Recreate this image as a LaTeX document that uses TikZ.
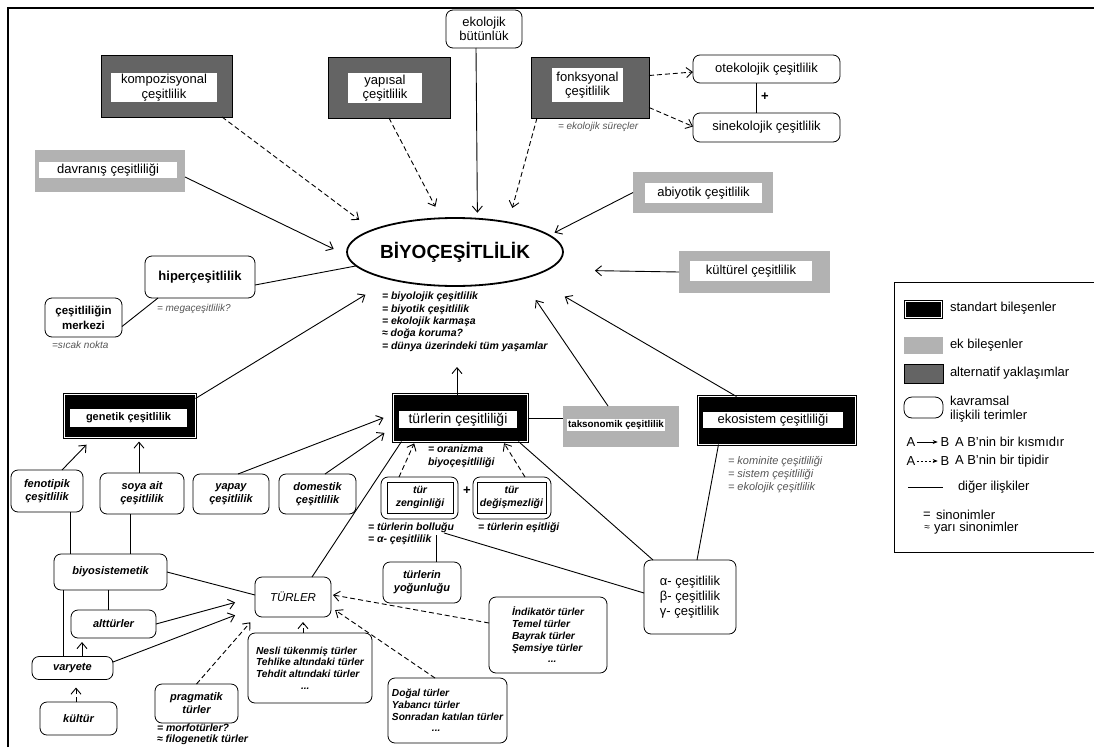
\documentclass[tikz,border=0pt]{standalone}
\usepackage{fontspec}
\setmainfont{Liberation Sans}
\usetikzlibrary{arrows.meta,shapes.geometric}
\definecolor{altgray}{RGB}{100,100,100}
\definecolor{ekgray}{RGB}{178,178,178}
\definecolor{notegray}{RGB}{85,85,85}

\begin{document}
\begin{tikzpicture}[x=1pt, y=-1pt,
  >={Straight Barb[length=6pt,width=10pt]},
  every node/.style={inner sep=0pt, outer sep=0pt, align=center,
                     font=\fontsize{13}{14.5}\selectfont},
  conn/.style={line width=0.9pt},
  dconn/.style={line width=0.9pt, dash pattern=on 5pt off 3pt},
  altbox/.style={draw, line width=0.6pt, fill=altgray},
  ekbox/.style={fill=ekgray},
  stdbox/.style={draw, line width=0.7pt, double=white, double distance=1.6pt, fill=black},
  inbox/.style={fill=white},
  concept/.style={draw, line width=0.8pt, rounded corners=7pt, fill=white},
  lowtxt/.style={font=\fontsize{11}{13}\selectfont\bfseries\itshape},
  listtxt/.style={font=\fontsize{10.2}{11.8}\selectfont\bfseries\itshape, align=left},
  syntxt/.style={font=\fontsize{10.5}{12.4}\selectfont\bfseries\itshape, align=left},
  notetxt/.style={font=\fontsize{10}{12}\selectfont\itshape, text=notegray, align=left}
]
\useasboundingbox (0,0) rectangle (1094,747);
\draw[line width=2.6pt] (8,747) -- (8,8) -- (1094,8);

\node[altbox, minimum width=131, minimum height=62] (komp) at (166.5,86) {};
\node[inbox, minimum width=106, minimum height=29] (kompt) at (164,87.5) {kompozisyonal\\çeşitlilik};
\node[altbox, minimum width=122, minimum height=61] (yap) at (389,87.5) {};
\node[inbox, minimum width=74, minimum height=30] (yapt) at (385,88) {yapısal\\çeşitlilik};
\node[altbox, minimum width=118, minimum height=61] (fonk) at (590,87.5) {};
\node[inbox, minimum width=71, minimum height=34] (fonkt) at (587.5,85) {fonksyonal\\çeşitlilik};
\node[notetxt, anchor=west] (surec) at (558,127) {= ekolojik süreçler};

\node[concept, minimum width=76, minimum height=38] (ekob) at (484,29) {ekolojik\\bütünlük};
\node[concept, minimum width=147, minimum height=28] (ote) at (766.5,69) {otekolojik çeşitlilik};
\node[concept, minimum width=147, minimum height=29] (sine) at (766.5,127.5) {sinekolojik çeşitlilik};
\node[font=\fontsize{13}{13}\selectfont\bfseries] (plus1) at (765,97) {+};

\node[ellipse, draw, line width=1.8pt, minimum width=216, minimum height=68,
      font=\fontsize{19}{21}\selectfont\bfseries] (bio) at (455,252) {BİYOÇEŞİTLİLİK};
\node[syntxt, anchor=north west] (bsyn) at (382,292) {= biyolojik çeşitlilik\\= biyotik çeşitlilik\\= ekolojik karmaşa\\≈ doğa koruma?\\= dünya üzerindeki tüm yaşamlar};
\coordinate (syntip) at (457,367);

\node[ekbox, minimum width=150, minimum height=42] (dav) at (110,171) {};
\node[inbox, minimum width=138, minimum height=16] (davt) at (108,170) {davranış çeşitliliği};
\node[ekbox, minimum width=140, minimum height=41] (abi) at (703,192.5) {};
\node[inbox, minimum width=117, minimum height=20] (abit) at (703.5,193) {abiyotik çeşitlilik};
\node[ekbox, minimum width=151, minimum height=42] (kul) at (754.5,272) {};
\node[inbox, minimum width=122, minimum height=20] (kult) at (751,271) {kültürel çeşitlilik};

\node[concept, minimum width=110, minimum height=42, font=\fontsize{13}{15}\selectfont\bfseries] (hiper) at (200,277) {hiperçeşitlilik};
\node[notetxt, anchor=west] (mega) at (157,309) {= megaçeşitlilik?};
\node[concept, minimum width=77, minimum height=39, font=\fontsize{11.5}{15}\selectfont\bfseries] (merk) at (83.5,317.5) {çeşitliliğin\\merkezi};
\node[notetxt, anchor=west] (sicak) at (52,345) {=sıcak nokta};

\node[stdbox, minimum width=131, minimum height=43] (gen) at (130,416) {};
\node[inbox, minimum width=117, minimum height=18, font=\fontsize{11}{13}\selectfont\bfseries] (gent) at (128.5,418) {genetik çeşitlilik};
\node[stdbox, minimum width=134, minimum height=47] (tur) at (460.5,418) {};
\node[inbox, minimum width=118, minimum height=17, font=\fontsize{14}{15}\selectfont] (turt) at (458,419.5) {türlerin çeşitliliği};
\node[syntxt, anchor=north west] (orgsyn) at (428,445) {= oranizma\\biyoçeşitliliği};
\node[stdbox, minimum width=157, minimum height=48] (ekos) at (777,420.5) {};
\node[inbox, minimum width=140, minimum height=16] (ekost) at (773,420) {ekosistem çeşitliliği};
\node[notetxt, anchor=north west, font=\fontsize{11}{13}\selectfont\itshape] (ekosyn) at (728,456) {= kominite çeşitliliği\\= sistem çeşitliliği\\= ekolojik çeşitlilik};
\node[ekbox, minimum width=116, minimum height=41] (tak) at (621,426.5) {};
\node[inbox, minimum width=98, minimum height=12, font=\fontsize{9.8}{11}\selectfont\bfseries] (takt) at (616,424.5) {taksonomik çeşitlilik};

\node[concept, lowtxt, minimum width=72, minimum height=42] (feno) at (47,491) {fenotipik\\çeşitlilik};
\node[concept, lowtxt, minimum width=84, minimum height=41] (soya) at (142,493.5) {soya ait\\çeşitlilik};
\node[concept, lowtxt, minimum width=76, minimum height=40] (yapay) at (231,494) {yapay\\çeşitlilik};
\node[concept, lowtxt, minimum width=77, minimum height=40] (dom) at (317.5,494) {domestik\\çeşitlilik};
\node[concept, lowtxt, minimum width=113, minimum height=36] (biyo) at (110.5,572) {biyosistemetik};
\node[concept, minimum width=76, minimum height=40, font=\fontsize{11.5}{13}\selectfont\itshape] (turler) at (293,597) {TÜRLER};
\node[concept, lowtxt, minimum width=85, minimum height=28] (alt) at (113.5,624) {alttürler};
\node[concept, lowtxt, minimum width=81, minimum height=23] (var) at (72.5,668) {varyete};
\node[concept, lowtxt, minimum width=77, minimum height=33] (kultur) at (78.5,718.5) {kültür};
\node[concept, lowtxt, minimum width=83, minimum height=39] (prag) at (196.5,703.5) {pragmatik\\türler};
\node[syntxt, anchor=west] (morfo) at (157,728) {= morfotürler?};
\node[syntxt, anchor=west] (filo) at (157,740) {≈ filogenetik türler};

\node[concept, listtxt, minimum width=124, minimum height=70] (nesli) at (310,668) {Nesli tükenmiş türler\\Tehlike altındaki türler\\Tehdit altındaki türler\\\hspace*{45pt}...};
\node[concept, listtxt, minimum width=118, minimum height=76] (indi) at (548,635) {İndikatör türler\\Temel türler\\Bayrak türler\\Şemsiye türler\\\hspace*{36pt}...};
\node[concept, listtxt, minimum width=119, minimum height=65] (dogal) at (447.5,710.5) {Doğal türler\\Yabancı türler\\Sonradan katılan türler\\\hspace*{40pt}...};

\node[concept, minimum width=77, minimum height=42] (zen) at (419.5,498) {};
\node[draw, line width=0.6pt, font=\fontsize{10.5}{13}\selectfont\bfseries\itshape, minimum width=66, minimum height=31] (zent) at (420,497.5) {tür\\zenginliği};
\node[concept, minimum width=78, minimum height=42] (deg) at (512,498) {};
\node[draw, line width=0.6pt, font=\fontsize{10.5}{13}\selectfont\bfseries\itshape, minimum width=69, minimum height=31] (degt) at (511.5,497.5) {tür\\değişmezliği};
\node[font=\fontsize{13}{13}\selectfont\bfseries] (plus2) at (467,491) {+};
\node[syntxt, anchor=west] (bol1) at (368,528) {= türlerin bolluğu};
\node[syntxt, anchor=west] (bol2) at (368,540) {= α- çeşitlilik};
\node[syntxt, anchor=west] (esit) at (478,528) {= türlerin eşitliği};
\node[concept, lowtxt, minimum width=78, minimum height=41] (yog) at (422,582.5) {türlerin\\yoğunluğu};
\node[concept, minimum width=92, minimum height=74, align=left, font=\fontsize{13}{15}\selectfont] (abg) at (690,597) {α- çeşitlilik\\β- çeşitlilik\\γ- çeşitlilik};

\draw[dconn,->,shorten >=17pt] ([xshift=-10pt]komp.south east) -- (bio.165.4);
\draw[dconn,->,shorten >=13pt] (yap.south) -- (bio.112.6);
\draw[conn,->,shorten >=6pt] ([xshift=-8pt]ekob.south) -- (bio.56.5);
\draw[dconn,->,shorten >=15pt] ([xshift=6pt]fonk.south west) -- (bio.29.2);
\draw[dconn,->] ([yshift=12pt]fonk.east) -- ([yshift=-3pt]ote.west);
\draw[dconn,->] ([yshift=-20pt]fonk.east) -- ([yshift=1pt]sine.west);
\draw[conn] ([xshift=-10pt]ote.south) -- ([xshift=-10pt]sine.north);
\draw[conn,->,shorten >=15.5pt] ([yshift=-6pt]dav.east) -- (bio.182.6);
\draw[conn,->,shorten >=6pt] (abi.west) -- (bio.10.6);
\draw[conn,->,shorten >=48pt] (kul.west) -- (bio.-11.1);
\draw[conn] ([yshift=-8pt]hiper.east) -- (bio.188.8);
\draw[conn] ([yshift=-9pt]merk.east) -- ([xshift=13pt]hiper.south west);
\draw[conn,->,shorten >=29.6pt] ([yshift=-4pt]gen.north east) -- (bio.203.8);
\draw[conn,->] ([xshift=-3.5pt]tur.north) -- (syntip);
\draw[conn,->,shorten >=25.6pt] ([xshift=-13pt]tak.north) -- (bio.-22.6);
\draw[conn,->,shorten >=40pt] ([xshift=38pt]ekos.north west) -- (bio.-18.9);
\draw[conn] (tur.east) -- (tur.east -| tak.west);

\draw[conn,->,shorten >=10pt] ([xshift=15pt]feno.north) -- ([xshift=29pt]gen.south west);
\draw[conn,->,shorten >=4pt] ([xshift=-3pt]soya.north) -- ([xshift=9pt]gen.south);
\draw[conn,->,shorten >=10.7pt] ([xshift=7pt]yapay.north) -- ([yshift=4pt]tur.west);
\draw[conn,->,shorten >=11pt] ([xshift=7.5pt]dom.north) -- ([yshift=-8.6pt]tur.west);
\draw[conn] ([xshift=23pt]feno.south) -- ([xshift=-40.5pt]biyo.north);
\draw[conn] ([xshift=-12pt]soya.south) -- ([xshift=19.5pt]biyo.north);
\draw[conn] (biyo.east) -- ([yshift=2pt]turler.west);
\draw[conn] ([xshift=19pt]turler.north) -- ([xshift=8pt]tur.south west);
\draw[conn] ([xshift=-2.5pt]biyo.south) -- ([xshift=-5.5pt]alt.north);
\draw[conn,->,shorten >=20.6pt] (alt.east) -- (turler.west);
\draw[conn] ([xshift=9pt]biyo.south west) -- ([xshift=31pt]var.north west);
\draw[conn,->,shorten >=4pt] ([xshift=9.5pt]var.north) -- ([xshift=-31.5pt]alt.south);
\draw[conn,->,shorten >=21.3pt] ([yshift=6pt]var.east) -- ([yshift=-10.6pt]turler.west);
\draw[dconn,->,shorten >=8pt] ([xshift=-2.5pt]kultur.north) -- ([xshift=3.5pt]var.south);
\draw[dconn,->,shorten >=7pt] (prag.north) -- (turler.south west);
\draw[dconn,->,shorten >=5pt] ([xshift=-7pt]nesli.north) -- ([xshift=10pt]turler.south);
\draw[dconn,->,shorten >=2pt] ([yshift=12pt]indi.west) -- ([yshift=2.4pt]turler.east);
\draw[dconn,->,shorten >=5pt] ([xshift=-12.5pt]dogal.north) -- ([yshift=-10.3pt]turler.east);
\draw[dconn,->,shorten >=2pt] ([xshift=-20.5pt]zen.north) -- ([xshift=-45.5pt]tur.south);
\draw[dconn,->,shorten >=2pt] ([xshift=13pt]deg.north) -- ([xshift=42.5pt]tur.south);
\draw[conn] ([xshift=-9pt]tur.south east) -- ([xshift=9pt]abg.north west);
\draw[conn] ([xshift=20pt]ekos.south west) -- ([xshift=7pt]abg.north);
\draw[conn] ([xshift=-10pt]bol1.south east) -- ([yshift=4pt]abg.west);
\draw[conn] ([xshift=14pt]yog.north) -- ([xshift=14pt,yshift=27pt]yog.north);

\draw[line width=0.8pt] (1094,282) -- (894,282) -- (894,552) -- (1094,552);
\node[stdbox, minimum width=36, minimum height=16] (lgstd) at (923.5,309.5) {};
\node[anchor=west] (lgstdt) at (950,308) {standart bileşenler};
\node[ekbox, minimum width=39, minimum height=17] (lgek) at (923.5,345.5) {};
\node[anchor=west] (lgekt) at (950,345) {ek bileşenler};
\node[altbox, minimum width=39, minimum height=19] (lgalt) at (923.5,373.5) {};
\node[anchor=west] (lgaltt) at (950,373) {alternatif yaklaşımlar};
\node[concept, minimum width=39, minimum height=21, rounded corners=8pt] (lgcon) at (923.5,407.5) {};
\node[anchor=west, align=left] (lgcont) at (950,409) {kavramsal\\ilişkili terimler};
\node (lgA1) at (911,442) {A};
\node (lgB1) at (945,442) {B};
\draw[line width=0.6pt, -{Stealth[length=5pt,width=4pt]}, shorten >=3pt, shorten <=1.5pt] (lgA1) -- (lgB1);
\node[anchor=west] (lgpart) at (955,442) {A B'nin bir kısmıdır};
\node (lgA2) at (911,461) {A};
\node (lgB2) at (945,461) {B};
\draw[line width=0.6pt, dash pattern=on 2pt off 2pt, -{Stealth[length=5pt,width=4pt]}, shorten >=3pt, shorten <=1.5pt] (lgA2) -- (lgB2);
\node[anchor=west] (lgtype) at (955,461) {A B'nin bir tipidir};
\coordinate (lgl1) at (908,487);
\coordinate (lgl2) at (943,487);
\draw[line width=0.6pt] (lgl1) -- (lgl2);
\node[anchor=west] (lgother) at (958,487) {diğer ilişkiler};
\node (lgeq) at (927,515) {=};
\node[anchor=west] (lgsyn) at (936,515) {sinonimler};
\node[font=\fontsize{10}{10}\selectfont] (lgap) at (927,528) {≈};
\node[anchor=west] (lgsemi) at (934,528) {yarı sinonimler};
\end{tikzpicture}
\end{document}
